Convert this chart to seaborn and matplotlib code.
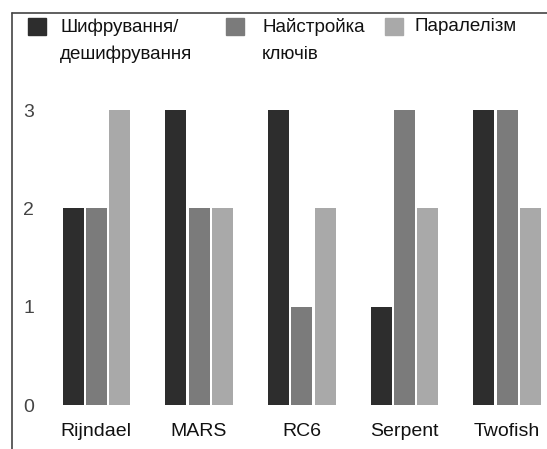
import matplotlib
matplotlib.use("Agg")
import matplotlib.pyplot as plt
import numpy as np
import pandas as pd
import seaborn as sns
from matplotlib.lines import Line2D
from matplotlib.patches import Rectangle


ALGORITHMS = ["Rijndael", "MARS", "RC6", "Serpent", "Twofish"]
SERIES = ["Шифрування/\nдешифрування", "Найстройка\nключів", "Паралелізм"]
ENCRYPTION = [2, 3, 3, 1, 3]
KEY_SETUP = [2, 2, 1, 3, 3]
PARALLELISM = [3, 2, 2, 2, 2]
Y_TICKS = [0, 1, 2, 3]
COLORS = ["#2d2d2d", "#7b7b7b", "#a9a9a9"]


def build_frame():
    rows = []
    for series, values in zip(SERIES, [ENCRYPTION, KEY_SETUP, PARALLELISM]):
        for algorithm, value in zip(ALGORITHMS, values):
            rows.append({"algorithm": algorithm, "series": series, "value": value})
    return pd.DataFrame(rows)


def main():
    df = build_frame()
    sns.set_theme(style="white")
    plt.rcParams["font.family"] = ["Liberation Sans", "DejaVu Sans"]

    fig = plt.figure(figsize=(5.47, 4.49), dpi=100)
    W, H = 547, 449
    # axes: x=-0.5 at px 45, 102.7 px per category; y=0 at px 405, 98.3 px per unit
    left_px, bottom_px = 45, 405
    x_per = 102.7
    y_per = 98.3
    x_max = (W - left_px) / x_per - 0.5
    y_max = 3.3
    ax = fig.add_axes([left_px / W, (H - bottom_px) / H, 1 - left_px / W, y_max * y_per / H])

    sns.barplot(
        data=df, x="algorithm", y="value", hue="series", palette=COLORS,
        width=0.68, gap=0.1, linewidth=0, saturation=1, legend=False, ax=ax,
    )
    ax.set_xlim(-0.5, x_max)
    ax.set_ylim(0, y_max)
    ax.set_yticks(Y_TICKS)
    ax.set_yticklabels([str(t) for t in Y_TICKS], fontsize=14, color="#444444")
    ax.tick_params(axis="y", length=0, pad=8)
    ax.tick_params(axis="x", length=0, pad=13, labelsize=14, labelcolor="#111111")
    ax.set_xlabel("")
    ax.set_ylabel("")
    for spine in ax.spines.values():
        spine.set_visible(False)

    # outer frame (left and top edges)
    fig.add_artist(Line2D([12 / W, 12 / W], [0, 1 - 13 / H], color="#444444", lw=1.2))
    fig.add_artist(Line2D([12 / W, 1], [1 - 13 / H, 1 - 13 / H], color="#444444", lw=1.2))

    # legend drawn by hand
    legend_x = [28, 226, 385]
    text_x = [60, 262, 415]
    for color, label, sx, tx in zip(COLORS, SERIES, legend_x, text_x):
        fig.add_artist(Rectangle((sx / W, 1 - 35 / H), 18 / W, 17 / H,
                                 color=color, transform=fig.transFigure))
        fig.text(tx / W, 1 - 18 / H, label, ha="left", va="top", fontsize=13.5,
                 color="#111111", linespacing=1.75)

    fig.savefig("out.png", dpi=100)


if __name__ == "__main__":
    main()
